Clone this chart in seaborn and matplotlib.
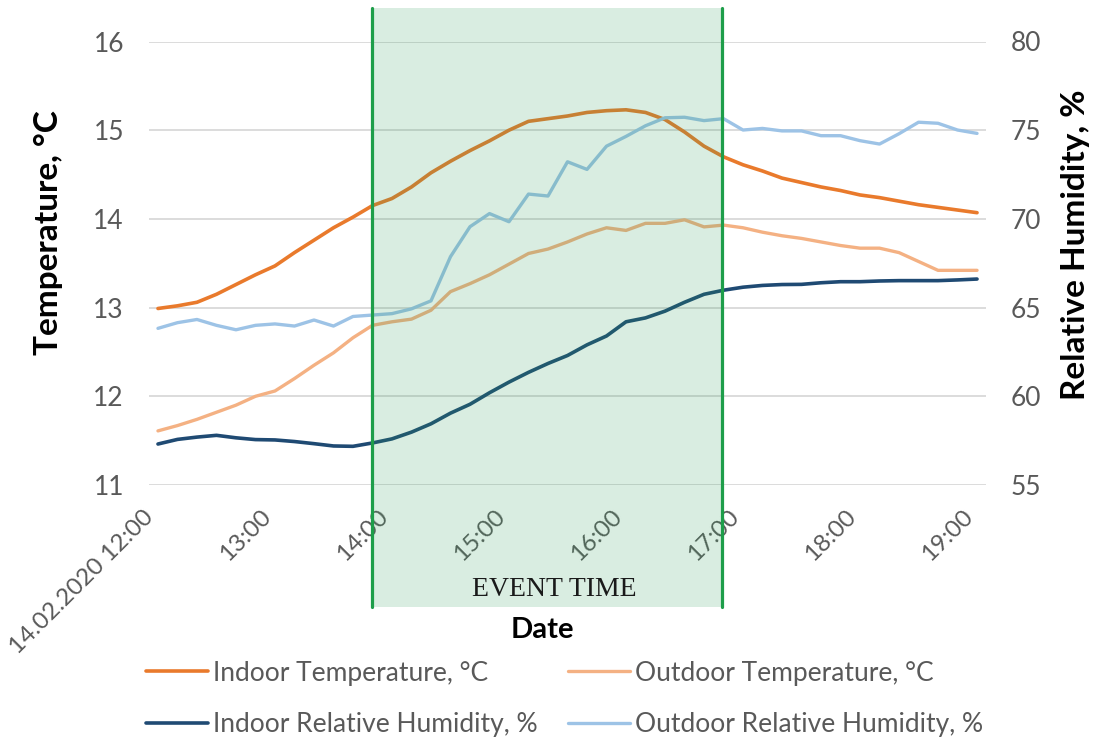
import matplotlib
matplotlib.use("Agg")
import matplotlib.pyplot as plt
import matplotlib.transforms as mtransforms
from matplotlib.patches import Rectangle
import pandas as pd
import seaborn as sns

# Minutes after 14.02.2020 12:00, one reading every 10 minutes until 19:00
minutes = list(range(0, 421, 10))

indoor_temp = [12.99, 13.02, 13.06, 13.15, 13.26, 13.37, 13.47, 13.62, 13.76, 13.90,
               14.02, 14.15, 14.23, 14.36, 14.52, 14.65, 14.77, 14.88, 15.00, 15.10,
               15.13, 15.16, 15.20, 15.22, 15.23, 15.20, 15.12, 14.98, 14.82, 14.70,
               14.61, 14.54, 14.46, 14.41, 14.36, 14.32, 14.27, 14.24, 14.20, 14.16,
               14.13, 14.10, 14.07]
outdoor_temp = [11.61, 11.67, 11.74, 11.82, 11.90, 12.00, 12.06, 12.20, 12.35, 12.49,
                12.66, 12.80, 12.84, 12.87, 12.97, 13.18, 13.27, 13.37, 13.49, 13.61,
                13.66, 13.74, 13.83, 13.90, 13.87, 13.95, 13.95, 13.99, 13.91, 13.93,
                13.90, 13.85, 13.81, 13.78, 13.74, 13.70, 13.67, 13.67, 13.62, 13.52,
                13.42, 13.42, 13.42]
indoor_rh = [57.31, 57.57, 57.70, 57.80, 57.66, 57.56, 57.54, 57.45, 57.33, 57.20,
             57.18, 57.37, 57.60, 57.98, 58.45, 59.05, 59.55, 60.20, 60.80, 61.35,
             61.85, 62.30, 62.90, 63.40, 64.20, 64.42, 64.80, 65.30, 65.75, 65.98,
             66.15, 66.25, 66.30, 66.31, 66.40, 66.46, 66.46, 66.50, 66.52, 66.52,
             66.52, 66.56, 66.61]
outdoor_rh = [63.83, 64.15, 64.33, 64.00, 63.75, 64.00, 64.08, 63.96, 64.30, 63.96,
              64.50, 64.58, 64.66, 64.93, 65.38, 67.87, 69.56, 70.30, 69.84, 71.40,
              71.29, 73.22, 72.79, 74.10, 74.65, 75.25, 75.70, 75.73, 75.54, 75.65,
              75.01, 75.10, 74.96, 74.96, 74.69, 74.69, 74.41, 74.22, 74.80, 75.45,
              75.39, 75.01, 74.82]

tick_minutes = [0, 60, 120, 180, 240, 300, 360, 420]
tick_labels = ["14.02.2020 12:00", "13:00", "14:00", "15:00", "16:00",
               "17:00", "18:00", "19:00"]
temp_ticks = [11, 12, 13, 14, 15, 16]
rh_ticks = [55, 60, 65, 70, 75, 80]

event_start, event_end = 110, 289  # minutes after 12:00

series_labels = ["Indoor Temperature, °C", "Outdoor Temperature, °C",
                 "Indoor Relative Humidity, %", "Outdoor Relative Humidity, %"]
colors = ["#E97A2C", "#F4B183", "#1F4A73", "#9DC3E6"]

sns.set_theme(style="white")
plt.rcParams["font.family"] = ["Lato", "DejaVu Sans"]

grey = "#595959"
fs = 19

fig = plt.figure(figsize=(10.94, 7.40), dpi=100)
ax = fig.add_axes([149 / 1094, 1 - 485 / 740, 837 / 1094, 443.5 / 740])
ax2 = ax.twinx()

df = pd.DataFrame({"minute": minutes, "it": indoor_temp, "ot": outdoor_temp,
                   "ih": indoor_rh, "oh": outdoor_rh})

sns.lineplot(data=df, x="minute", y="ot", ax=ax, color=colors[1], lw=2.4,
             legend=False, zorder=3)
sns.lineplot(data=df, x="minute", y="it", ax=ax, color=colors[0], lw=2.6,
             legend=False, zorder=4)
sns.lineplot(data=df, x="minute", y="oh", ax=ax2, color=colors[3], lw=2.4,
             legend=False, zorder=3)
sns.lineplot(data=df, x="minute", y="ih", ax=ax2, color=colors[2], lw=2.6,
             legend=False, zorder=4)

ax.set_xlim(-4.6, 424.6)
ax.set_ylim(11, 16)
ax2.set_ylim(55, 80)
ax.set_yticks(temp_ticks)
ax2.set_yticks(rh_ticks)
ax.set_xticks(tick_minutes)
ax.set_xticklabels(tick_labels, rotation=45, ha="right", rotation_mode="default")
shift = mtransforms.ScaledTranslation(6 / 100, 0, fig.dpi_scale_trans)
for lab in ax.get_xticklabels():
    lab.set_transform(lab.get_transform() + shift)

ax.grid(axis="y", color="#D6D6D6", lw=1.2)
ax.grid(axis="x", visible=False)
ax2.grid(False)
for a in (ax, ax2):
    for s in a.spines.values():
        s.set_visible(False)
ax.tick_params(axis="x", length=0, pad=15, labelsize=17.5, labelcolor=grey)
ax.tick_params(axis="y", length=0, pad=18, labelsize=fs, labelcolor=grey)
ax2.tick_params(axis="y", length=0, pad=18, labelsize=fs, labelcolor=grey)

ax.set_xlabel("")
ax.set_ylabel("Temperature, °C", fontsize=24, fontweight="bold", color="black")
ax2.set_ylabel("Relative Humidity, %", fontsize=24, fontweight="bold",
               color="black", rotation=90)
ax.yaxis.set_label_coords(-0.103, 0.57)
ax2.yaxis.set_label_coords(1.09, 0.541)

# Shaded event window, extending over the time labels
trans = mtransforms.blended_transform_factory(ax2.transData, ax2.transAxes)
rect = Rectangle((event_start, -0.275), event_end - event_start, 1.35,
                 transform=trans, facecolor="#2E9E5B", alpha=0.18,
                 edgecolor="none", clip_on=False, zorder=10)
ax2.add_patch(rect)
for xv in (event_start, event_end):
    ax2.plot([xv, xv], [-0.275, 1.075], transform=trans, color="#1E9E4A",
             lw=2.3, clip_on=False, zorder=11)

fig.text(554 / 1094, 1 - 590 / 740, "EVENT TIME", ha="center", va="center",
         fontsize=20, family="Liberation Serif", color="#1a1a1a")
fig.text(542 / 1094, 1 - 630 / 740, "Date", ha="center", va="center",
         fontsize=21, fontweight="bold", color="black")

l_it, l_ot = ax.get_lines()[1], ax.get_lines()[0]
l_oh, l_ih = ax2.get_lines()[0], ax2.get_lines()[1]
handles = [l_it, l_ih, l_ot, l_oh]
labels = [series_labels[0], series_labels[2], series_labels[1], series_labels[3]]
fig.legend(handles, labels, ncol=2, loc="upper left",
           bbox_to_anchor=(135 / 1094, 1 - 650 / 740), frameon=False,
           fontsize=fs, labelcolor=grey, handlelength=2.35, handletextpad=0.2,
           columnspacing=1.15, labelspacing=1.0, borderaxespad=0)

fig.savefig("out.png", dpi=100)
